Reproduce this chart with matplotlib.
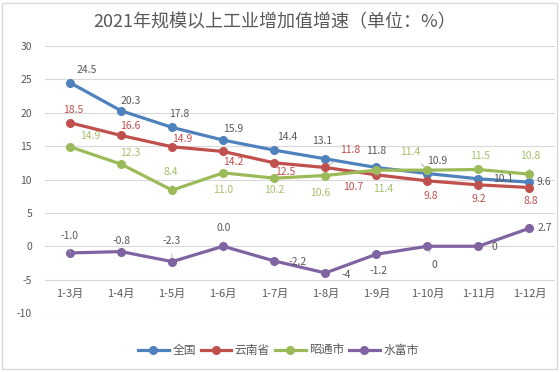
import numpy as np
import matplotlib.pyplot as plt
from matplotlib.patches import Rectangle

plt.rcParams['font.family'] = ['Noto Sans CJK SC', 'DejaVu Sans']
plt.rcParams['axes.unicode_minus'] = False

# data
months = ["1-3月", "1-4月", "1-5月", "1-6月", "1-7月", "1-8月", "1-9月", "1-10月", "1-11月", "1-12月"]
series_names = ["全国", "云南省", "昭通市", "水富市"]
quanguo = [24.5, 20.3, 17.8, 15.9, 14.4, 13.1, 11.8, 10.9, 10.1, 9.6]
yunnan = [18.5, 16.6, 14.9, 14.2, 12.5, 11.8, 10.7, 9.8, 9.2, 8.8]
zhaotong = [14.9, 12.3, 8.4, 11.0, 10.2, 10.6, 11.4, 11.4, 11.5, 10.8]
shuifu = [-1.0, -0.8, -2.3, 0.0, -2.2, -4, -1.2, 0, 0, 2.7]
shuifu_labels = ["-1.0", "-0.8", "-2.3", "0.0", "-2.2", "-4", "-1.2", "0", "0", "2.7"]

# styling
colors = ["#4F81BD", "#C0504D", "#9BBB59", "#8064A2"]
label_colors = ["#595959", "#C0504D", "#A5C06A", "#595959"]

# label offsets in pixels (dx, dy, screen y up), plus leader line flag
offsets = [
    [(17, 13), (10, 10), (7, 13), (10, 11), (13, 13), (-3, 18), (0, 16), (10, 13), (25, 0), (14, 0)],
    [(3, 13), (9, 9), (10, 8), (10, -11), (11, -9), (25, 17), (-23, -12), (3, -15), (0, -14), (1, -13)],
    [(20, 11), (9, 11), (-1, 18), (0, -17), (0, -12), (-5, -17), (7, -19), (-17, 18), (2, 13), (1, 18)],
    [(-1, 17), (0, 11), (-1, 21), (0, 18), (23, -1), (21, -2), (2, -17), (7, -19), (16, -1), (15, 0)],
]
leaders = [
    [False] * 10,
    [False, False, False, False, False, True, False, False, False, False],
    [True, False, True, False, False, False, True, True, False, True],
    [True, False, True, True, False, False, False, True, False, False],
]

fig = plt.figure(figsize=(5.6, 3.72), dpi=100)
fig.patches.append(Rectangle((0.004, 0.008), 0.99, 0.985, transform=fig.transFigure,
                             fill=False, edgecolor="#d9d9d9", linewidth=1))
ax = fig.add_axes([0.0795, 0.1586, 0.9116, 0.7177])

x = np.arange(len(months))
all_series = [quanguo, yunnan, zhaotong, shuifu]
for k, (vals, name) in enumerate(zip(all_series, series_names)):
    ax.plot(x, vals, color=colors[k], linewidth=2.3, marker="o", markersize=5.5,
            label=name, zorder=3 + k * 0.1)
    texts = shuifu_labels if k == 3 else [f"{v:.1f}" for v in vals]
    for i, v in enumerate(vals):
        dx, dy = offsets[k][i]
        arrow = None
        if leaders[k][i]:
            arrow = dict(arrowstyle="-", color="#a6a6a6", lw=0.6, shrinkA=4, shrinkB=3)
        ax.annotate(texts[i], (x[i], v), xytext=(dx, dy), textcoords="offset pixels",
                    ha="center", va="center", fontsize=7.5, color=label_colors[k],
                    arrowprops=arrow, zorder=6)

ax.set_xlim(-0.5, len(months) - 0.5)
ax.set_ylim(-10, 30)
ax.set_yticks(np.arange(-10, 31, 5))
ax.yaxis.grid(True, color="#d9d9d9", linewidth=0.8)
ax.set_axisbelow(True)
for s in ["top", "right", "left"]:
    ax.spines[s].set_visible(False)
ax.spines["bottom"].set_position(("data", -5))
ax.spines["bottom"].set_visible(False)
ax.set_xticks(x)
ax.set_xticklabels(months)
ax.tick_params(axis="x", length=0, pad=7, labelsize=8, labelcolor="#595959")
ax.tick_params(axis="y", length=0, pad=9, labelsize=7.5, labelcolor="#595959")

fig.text(0.49, 0.94, "2021年规模以上工业增加值增速（单位：%）", ha="center", va="center",
         fontsize=13, color="#595959")

fig.legend(loc="center", bbox_to_anchor=(0.497, 0.057), ncol=4, frameon=False,
           fontsize=8.5, handlelength=2.6, handletextpad=0.3, columnspacing=0.4,
           labelcolor="#595959")

plt.savefig("out.png", dpi=100)
